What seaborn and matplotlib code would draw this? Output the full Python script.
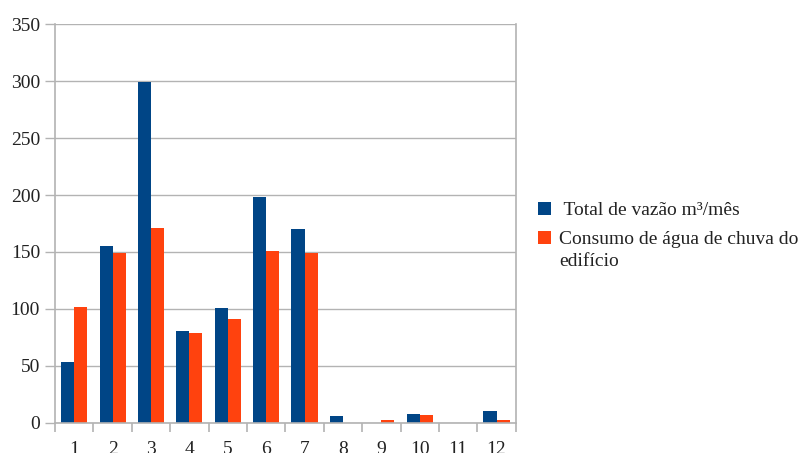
import matplotlib
matplotlib.use("Agg")
import matplotlib.pyplot as plt
from matplotlib.ticker import FixedLocator, MultipleLocator
import seaborn as sns
import pandas as pd

meses = ["1", "2", "3", "4", "5", "6", "7", "8", "9", "10", "11", "12"]
total_vazao = [53, 155.5, 299, 80.5, 101, 198.5, 170.5, 6, 0, 7.5, 0, 10.5]
consumo_chuva = [101.5, 149.5, 171, 79, 91, 151, 149.5, 0, 2.5, 7, 0, 2.5]
series = [" Total de vazão m³/mês", "Consumo de água de chuva do edifício"]
cores = ["#004586", "#ff420e"]

df = pd.DataFrame({
    "mes": meses * 2,
    "valor": total_vazao + consumo_chuva,
    "serie": [series[0]] * len(meses) + [series[1]] * len(meses),
})

sns.set_theme(style="white")
plt.rcParams["font.family"] = "serif"
plt.rcParams["font.serif"] = ["Liberation Serif", "Times New Roman", "DejaVu Serif"]
fs = 14

fig = plt.figure(figsize=(8.0, 4.53), dpi=100)
ax = fig.add_axes([55 / 800, 1 - 422.7 / 453, 460.7 / 800, 398.4 / 453])

sns.barplot(data=df, x="mes", y="valor", hue="serie", order=meses,
            hue_order=series, palette=cores, saturation=1, width=0.68,
            linewidth=0, ax=ax)

grid_c = "#b3b3b3"
text_c = "#222222"
ax.set_ylim(0, 350)
ax.set_xlim(-0.5, len(meses) - 0.5)
ax.yaxis.set_major_locator(MultipleLocator(50))
ax.grid(axis="y", color=grid_c, linewidth=1.0)
ax.set_axisbelow(True)
for side in ["left", "right", "bottom"]:
    ax.spines[side].set_visible(True)
    ax.spines[side].set_color(grid_c)
    ax.spines[side].set_linewidth(1.2)
ax.spines["top"].set_visible(False)

ax.set_xlabel("")
ax.set_ylabel("")
ax.xaxis.set_minor_locator(FixedLocator([i - 0.5 for i in range(len(meses) + 1)]))
ax.tick_params(axis="x", which="major", length=0, pad=13, labelsize=fs, colors=text_c)
ax.tick_params(axis="x", which="minor", length=6.5, width=1.2, color=grid_c, bottom=True)
ax.tick_params(axis="y", which="major", length=7.2, width=1.0, color=grid_c, pad=3.6,
               labelsize=fs, labelcolor=text_c, left=True)

# legend: the long label wraps, with the swatch aligned to its first line
handles, _ = ax.get_legend_handles_labels()
ax.get_legend().remove()
primeira, segunda = series[1].rsplit(" ", 1)
leg = fig.legend(handles, [series[0], primeira], loc="center left",
                 bbox_to_anchor=(538 / 800, 1 - 225 / 453), frameon=False,
                 borderpad=0, borderaxespad=0, handlelength=0.65, handleheight=0.65,
                 handletextpad=0.45, labelspacing=0.6, fontsize=fs,
                 labelcolor=text_c)
fig.canvas.draw()
bb = leg.get_texts()[1].get_window_extent()
fig.text(bb.x0 / fig.bbox.width, (bb.y0 - 0.5 * bb.height - 5) / fig.bbox.height,
         segunda, fontsize=fs, color=text_c, ha="left", va="center")

fig.savefig("out.png", dpi=100)
